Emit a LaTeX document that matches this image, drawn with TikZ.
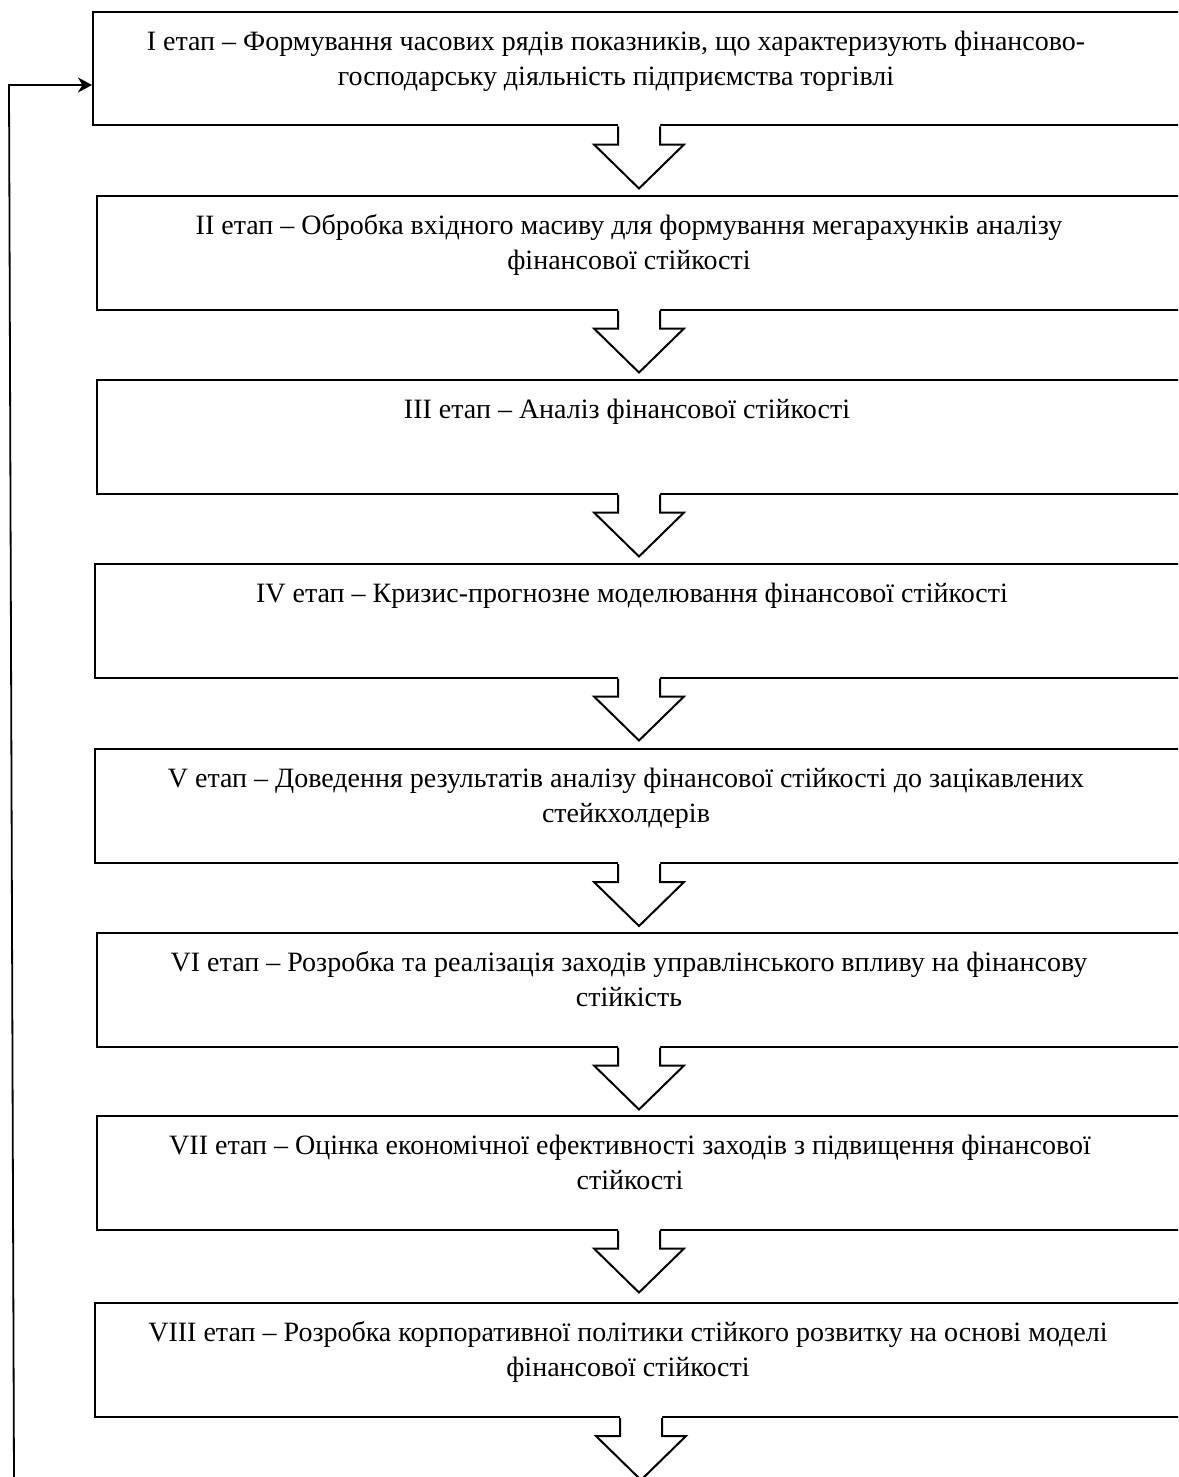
\documentclass[tikz,border=0pt]{standalone}
\usepackage{fontspec}
\setmainfont{Liberation Serif}
\usetikzlibrary{arrows.meta,calc}
\begin{document}
\begin{tikzpicture}[x=0.5pt,y=-0.5pt,
  stagebox/.style={draw,line width=1pt,rectangle,anchor=north west,inner sep=0pt,minimum height=56.75pt},
  stagetext/.style={anchor=north,inner sep=0pt,align=center,font=\fontsize{14pt}{17.5pt}\selectfont},
  fbline/.style={line width=0.9pt,-{Stealth[length=7pt,width=7.5pt,inset=2.2pt]}},
  bigarrow/.pic={
    \fill[white] (-21,-3) -- (-21,18) -- (-45,18) -- (0,62) -- (45,18) -- (21,18) -- (21,-3) -- cycle;
    \draw[line width=1pt,line join=miter] (-21,0) -- (-21,18) -- (-45,18) -- (0,62) -- (45,18) -- (21,18) -- (21,0);
  }]
\useasboundingbox (0,0) rectangle (1178,1477);
\clip (0,0) rectangle (1178,1477);
% boxes
\node[stagebox,minimum width=549pt] (b1) at (92,11) {};
\node[stagebox,minimum width=547pt] (b2) at (96,195) {};
\node[stagebox,minimum width=547pt] (b3) at (96,379) {};
\node[stagebox,minimum width=548pt] (b4) at (94,563) {};
\node[stagebox,minimum width=548pt,minimum height=57pt] (b5) at (94,748) {};
\node[stagebox,minimum width=547pt] (b6) at (96,932) {};
\node[stagebox,minimum width=547pt] (b7) at (96,1115) {};
\node[stagebox,minimum width=548pt,minimum height=57pt] (b8) at (94,1302) {};
% texts
\node[stagetext] (t1) at (616,26) {\strut I етап – Формування часових рядів показників, що характеризують фінансово-\\господарську діяльність підприємства торгівлі};
\node[stagetext] (t2) at (629,210) {\strut II етап – Обробка вхідного масиву для формування мегарахунків аналізу\\фінансової стійкості};
\node[stagetext] (t3) at (627,394) {\strut III етап – Аналіз фінансової стійкості};
\node[stagetext] (t4) at (632,578) {\strut IV етап – Кризис-прогнозне моделювання фінансової стійкості};
\node[stagetext] (t5) at (626,763) {\strut V етап – Доведення результатів аналізу фінансової стійкості до зацікавлених\\стейкхолдерів};
\node[stagetext] (t6) at (629,947) {\strut VI етап – Розробка та реалізація заходів управлінського впливу на фінансову\\стійкість};
\node[stagetext] (t7) at (630,1130) {\strut VII етап – Оцінка економічної ефективності заходів з підвищення фінансової\\стійкості};
\node[stagetext] (t8) at (628,1317) {\strut VIII етап – Розробка корпоративної політики стійкого розвитку на основі моделі\\фінансової стійкості};
% block arrows
\coordinate (ax) at (639,0);
\coordinate (axl) at (641,0);
\path (b1.south -| ax) pic {bigarrow};
\path (b2.south -| ax) pic {bigarrow};
\path (b3.south -| ax) pic {bigarrow};
\path (b4.south -| ax) pic {bigarrow};
\path (b5.south -| ax) pic {bigarrow};
\path (b6.south -| ax) pic {bigarrow};
\path (b7.south -| ax) pic {bigarrow};
\path (b8.south -| axl) pic {bigarrow};
% feedback line
\coordinate (fbstart) at (14,1480);
\coordinate (fbcorner) at (9,85);
\draw[fbline] (fbstart) -- (fbcorner) -- (fbcorner -| b1.west);
\end{tikzpicture}
\end{document}
